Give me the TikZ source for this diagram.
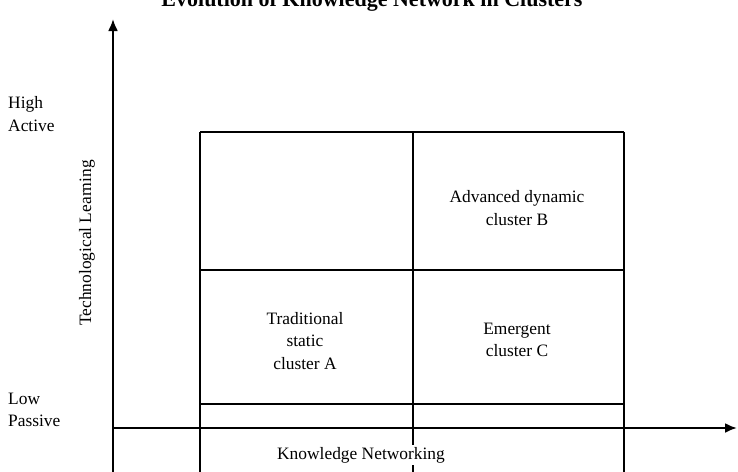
\documentclass[tikz,border=0pt]{standalone}
\usepackage{fontspec}
\setmainfont{Liberation Serif}
\usetikzlibrary{arrows.meta}
\begin{document}
\begin{tikzpicture}[x=1pt,y=-1pt,
  gridline/.style={line width=1.6pt},
  axisline/.style={line width=2.2pt,-{Latex[length=12pt,width=10pt]}},
  lbl/.style={font=\fontsize{17.4}{22.5}\selectfont, inner sep=0pt, align=center},
  side/.style={lbl, align=left, anchor=west},
  ttl/.style={font=\fontsize{22}{26}\selectfont\bfseries, inner sep=0pt, anchor=base}]
\useasboundingbox (0,0) rectangle (738,471);
% axes
\coordinate (ybot) at (113,478);
\coordinate (ytip) at (113,19);
\coordinate (xorg) at (113,428);
\coordinate (xtip) at (737,428);
\draw[axisline] (ybot) -- (ytip);
\draw[axisline] (xorg) -- (xtip);
% grid coordinates
\coordinate (t1) at (200,132); \coordinate (t2) at (413,132); \coordinate (t3) at (624,132);
\coordinate (m1) at (200,270); \coordinate (m3) at (624,270);
\coordinate (b1) at (200,404); \coordinate (b3) at (624,404);
\coordinate (e1) at (200,478); \coordinate (e2) at (413,478); \coordinate (e3) at (624,478);
\draw[gridline] (t1) -- (t3);
\draw[gridline] (m1) -- (m3);
\draw[gridline] (b1) -- (b3);
\draw[gridline] (t1) -- (e1);
\draw[gridline] (t2) -- (e2);
\draw[gridline] (t3) -- (e3);
% texts
\node[ttl] (title) at (372,6) {Evolution of Knowledge Network in Clusters};
\node[side] (high) at (8,114) {High\\Active};
\node[side] (low) at (8,410) {Low\\Passive};
\node[lbl, rotate=90] (tl) at (87,243) {Technological Learning};
\node[lbl, fill=white, inner sep=2pt] (kn) at (361,455) {Knowledge Networking};
\node[lbl] (cb) at (517,208) {Advanced dynamic\\cluster B};
\node[lbl] (ca) at (305,341) {Traditional\\static\\cluster A};
\node[lbl] (cc) at (517,340) {Emergent\\cluster C};
\end{tikzpicture}
\end{document}
